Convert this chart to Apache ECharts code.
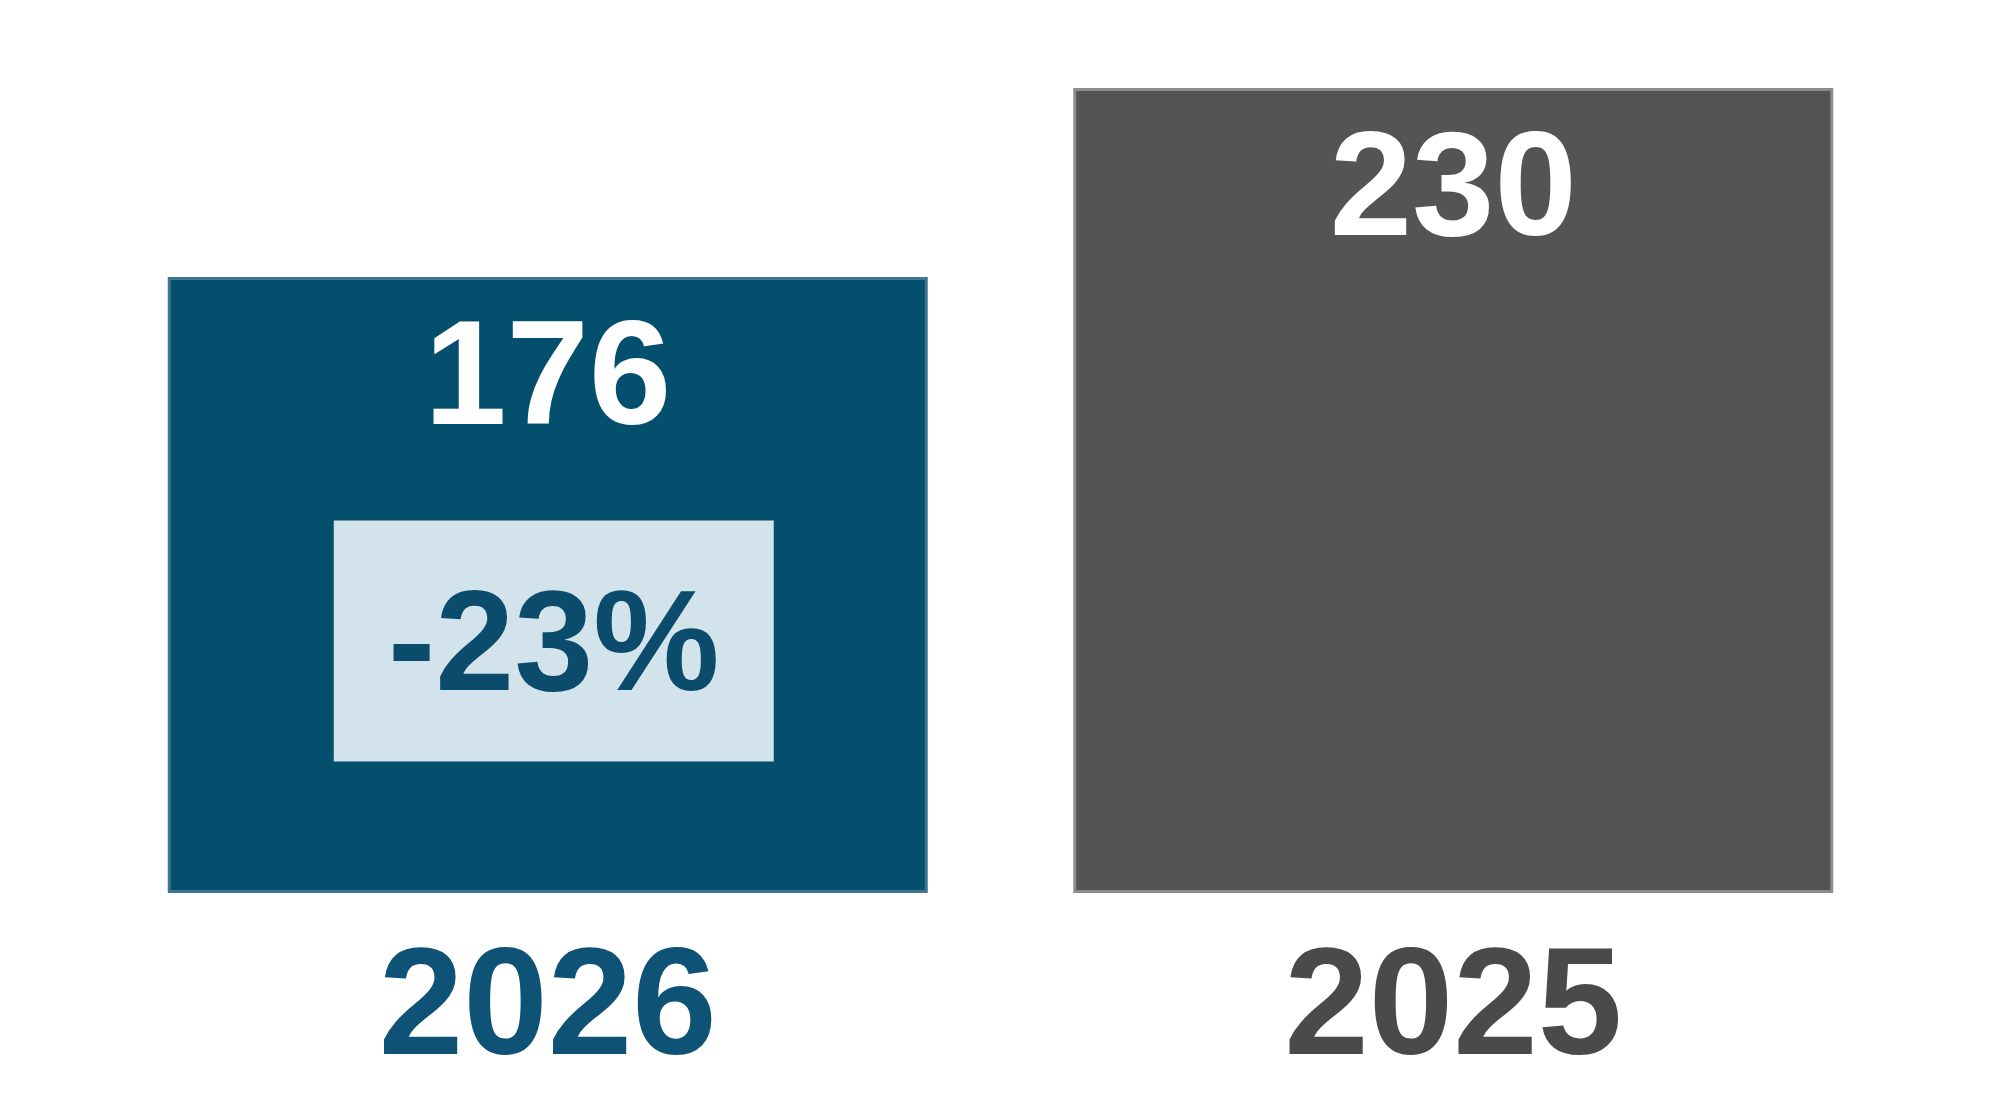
<!DOCTYPE html>
<html>
<head>
<meta charset="utf-8">
<script src="https://cdn.jsdelivr.net/npm/echarts@6/dist/echarts.min.js"></script>
<style>html,body{margin:0;padding:0;background:#fff}#c{width:2000px;height:1107px}</style>
</head>
<body>
<div id="c"></div>
<script>
const categories = ['2026', '2025'];
const values = [176, 230];
const changeLabel = '-23%';
const changeAnchorValue = 72;

const barColors = ['#034f6d', '#545355'];
const borderColors = ['#3f7591', '#8c8c8c'];
const labelColors = ['#0e5275', '#4a4a4a'];
const FONT = '"Liberation Sans", Arial, sans-serif';

const chart = echarts.init(document.getElementById('c'));
chart.setOption({
  animation: false,
  backgroundColor: '#ffffff',
  grid: { left: 95, right: 94, top: 88, bottom: 214 },
  xAxis: {
    type: 'category',
    data: categories,
    axisLine: { show: false },
    axisTick: { show: false },
    axisLabel: {
      margin: 43,
      formatter: function (v, i) { return '{c' + i + '|' + v + '}'; },
      rich: {
        c0: { color: labelColors[0], fontSize: 152, fontWeight: 'bold', fontFamily: FONT },
        c1: { color: labelColors[1], fontSize: 152, fontWeight: 'bold', fontFamily: FONT }
      }
    }
  },
  yAxis: {
    type: 'value', min: 0, max: 230,
    show: false,
    splitLine: { show: false }
  },
  series: [{
    type: 'bar',
    barWidth: 760,
    data: values.map((v, i) => ({
      value: v,
      itemStyle: { color: barColors[i], borderColor: borderColors[i], borderWidth: 3 }
    })),
    label: {
      show: true,
      position: 'insideTop',
      distance: 32,
      color: '#ffffff',
      fontSize: 148,
      fontWeight: 'bold',
      fontFamily: FONT
    },
    markPoint: {
      symbol: 'rect',
      symbolSize: [440, 241],
      symbolOffset: [6, 0],
      itemStyle: { color: '#d3e3ec' },
      label: {
        show: true,
        formatter: changeLabel,
        offset: [0, 10],
        color: '#0b4b6b',
        fontSize: 142,
        fontWeight: 'bold',
        fontFamily: FONT
      },
      data: [{ coord: [categories[0], changeAnchorValue] }]
    }
  }]
});
</script>
</body>
</html>
